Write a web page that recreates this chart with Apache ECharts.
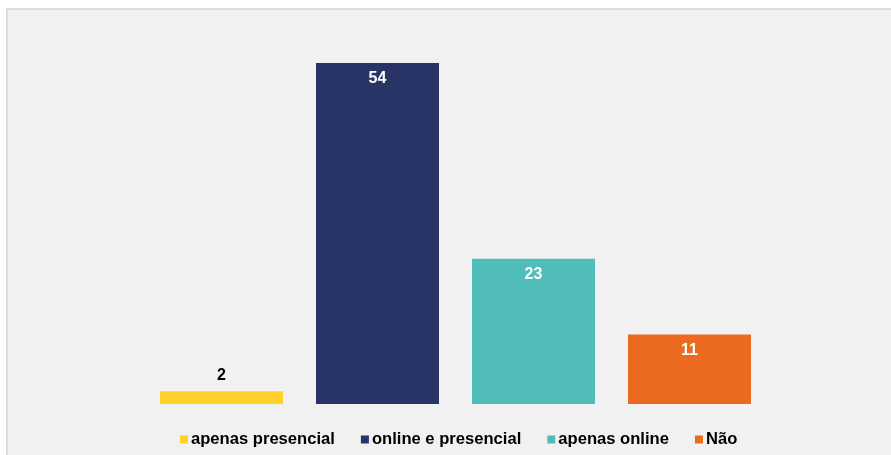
<!DOCTYPE html>
<html>
<head>
<meta charset="utf-8">
<script src="https://cdn.jsdelivr.net/npm/echarts@6/dist/echarts.min.js"></script>
<style>
  html, body { margin: 0; padding: 0; background: #fff; }
  .frame {
    position: absolute;
    left: 6px; top: 8px;
    width: 885px; height: 447px;
    background: #f1f1f1;
    border-top: 2px solid #dddddd;
    border-left: 2px solid #dddddd;
    box-sizing: border-box;
  }
  #chart { position: absolute; left: 0; top: 0; width: 891px; height: 455px; }
</style>
</head>
<body>
<div class="frame"></div>
<div id="chart"></div>
<script>
// categorias e valores
const categories = ['apenas presencial', 'online e presencial', 'apenas online', 'Não']
const values = [2, 54, 23, 11]
const colors = ['#ffd12a', '#283366', '#50bdbb', '#ec6a1f']
const labelColors = ['#000000', '#ffffff', '#ffffff', '#ffffff']
const labelPositions = ['top', 'insideTop', 'insideTop', 'insideTop']

const chart = echarts.init(document.getElementById('chart'))

// uma série por categoria, para que a legenda mostre cada uma
const series = categories.map((name, i) => ({
  name: name,
  type: 'bar',
  stack: 'all',
  barWidth: 123,
  data: categories.map((c, j) => (j === i ? values[i] : '-')),
  itemStyle: { color: colors[i] },
  label: {
    show: true,
    position: labelPositions[i],
    distance: 8,
    color: labelColors[i],
    fontFamily: 'Liberation Sans, Arial, sans-serif',
    fontWeight: 'bold',
    fontSize: 16,
  },
}))

chart.setOption({
  animation: false,
  grid: {
    left: 143.5,
    width: 624,
    top: 63,
    bottom: 51,
  },
  legend: {
    data: categories,
    bottom: 2,
    left: 175,
    icon: 'rect',
    itemWidth: 8,
    itemHeight: 8,
    itemGap: 26,
    textStyle: {
      color: '#000',
      fontFamily: 'Liberation Sans, Arial, sans-serif',
      fontWeight: 'bold',
      fontSize: 16.6,
      padding: [0, 0, 0, -2],
    },
  },
  xAxis: {
    type: 'category',
    data: categories,
    show: false,
  },
  yAxis: {
    type: 'value',
    min: 0,
    max: 54,
    show: false,
  },
  series: series,
})
</script>
</body>
</html>
